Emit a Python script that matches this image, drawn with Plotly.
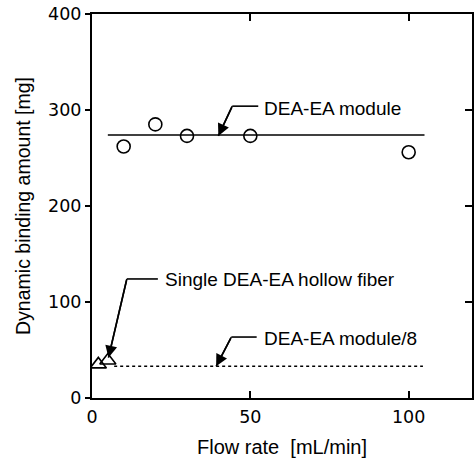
import plotly.graph_objects as go

# ---- data ----
flow_module = [10, 20, 30, 50, 100]
binding_module = [262, 285, 273, 273, 256]

flow_fit = [5, 105]
fit_module = [274, 274]

flow_fiber = [2, 5]
binding_fiber = [35, 39]

flow_fit8 = [7, 104.5]
fit_module8 = [33, 33]

x_ticks = [0, 50, 100]
y_ticks = [0, 100, 200, 300, 400]

FONT = "Liberation Sans, Arial, sans-serif"
TICKFONT = "DejaVu Sans, sans-serif"

fig = go.Figure()
fig.add_trace(go.Scatter(x=flow_fit, y=fit_module, mode="lines",
                         line=dict(color="black", width=1.6), showlegend=False))
fig.add_trace(go.Scatter(x=flow_fit8, y=fit_module8, mode="lines", yaxis="y2",
                         line=dict(color="black", width=1.5, dash="dot"), showlegend=False))
fig.add_trace(go.Scatter(x=flow_module, y=binding_module, mode="markers",
                         marker=dict(symbol="circle-open", size=13, color="black",
                                     line=dict(width=1.6, color="black")),
                         showlegend=False))
fig.add_trace(go.Scatter(x=flow_fiber, y=binding_fiber, mode="markers",
                         marker=dict(symbol="triangle-up-open", size=14, color="black",
                                     line=dict(width=1.6, color="black")),
                         showlegend=False))

# annotations: (text, text_x, text_y, corner_x, corner_y, hline_end_x, tip_x, tip_y)
notes = [
    ("DEA-EA module", 53.7, 302, 44.3, 304, 52.5, 39.9, 273),
    ("Single DEA-EA hollow fiber", 22.3, 123, 11, 124, 20.8, 5.2, 42),
    ("DEA-EA module/8", 53.7, 62.5, 44, 63.5, 52.0, 39.2, 33),
]
shapes = []
annotations = []
for text, tx, ty, cx, cy, hx, px_, py_ in notes:
    annotations.append(dict(x=tx, y=ty, xref="x", yref="y", text=text, showarrow=False,
                            xanchor="left", yanchor="middle",
                            font=dict(family=FONT, size=19, color="black")))
    # horizontal leader
    shapes.append(dict(type="line", xref="x", yref="y", x0=cx, y0=cy, x1=hx, y1=cy,
                       line=dict(color="black", width=1.6)))
    # diagonal leader
    shapes.append(dict(type="line", xref="x", yref="y", x0=cx, y0=cy, x1=px_, y1=py_,
                       line=dict(color="black", width=1.6)))
    # arrow head
    annotations.append(dict(x=px_, y=py_, xref="x", yref="y", ax=cx, ay=cy,
                            axref="x", ayref="y", text="", showarrow=True,
                            arrowhead=2, arrowsize=1.5, arrowwidth=1.6,
                            arrowcolor="black", standoff=0, startstandoff=0))

fig.update_layout(
    width=474, height=458,
    margin=dict(l=92, r=0, t=14, b=60),
    paper_bgcolor="white", plot_bgcolor="white",
    font=dict(family=FONT, color="black"),
    shapes=shapes, annotations=annotations,
    xaxis=dict(range=[0, 120], tickvals=x_ticks, ticks="inside", ticklen=7,
               tickwidth=1.6, tickcolor="black", showline=True, linecolor="black",
               linewidth=2, mirror="ticks", showgrid=False, zeroline=False,
               tickfont=dict(size=17.5, family=TICKFONT), ticklabelstandoff=2,
               title=dict(text="Flow rate  [mL/min]", font=dict(size=20, family=FONT),
                          standoff=14)),
    yaxis=dict(range=[0, 400], tickvals=y_ticks, ticks="outside", ticklen=5,
               tickwidth=1.6, tickcolor="black", showline=True, linecolor="black",
               linewidth=2, mirror=True, showgrid=False, zeroline=False,
               tickfont=dict(size=17.5, family=TICKFONT),
               title=dict(text="Dynamic binding amount [mg]",
                          font=dict(size=19.5, family=FONT), standoff=12)),
    yaxis2=dict(range=[0, 400], tickvals=y_ticks, ticks="inside", ticklen=7,
                tickwidth=1.6, tickcolor="black", overlaying="y", side="right",
                showticklabels=False, showgrid=False, zeroline=False, showline=False),
)

fig.write_html("out.html")
